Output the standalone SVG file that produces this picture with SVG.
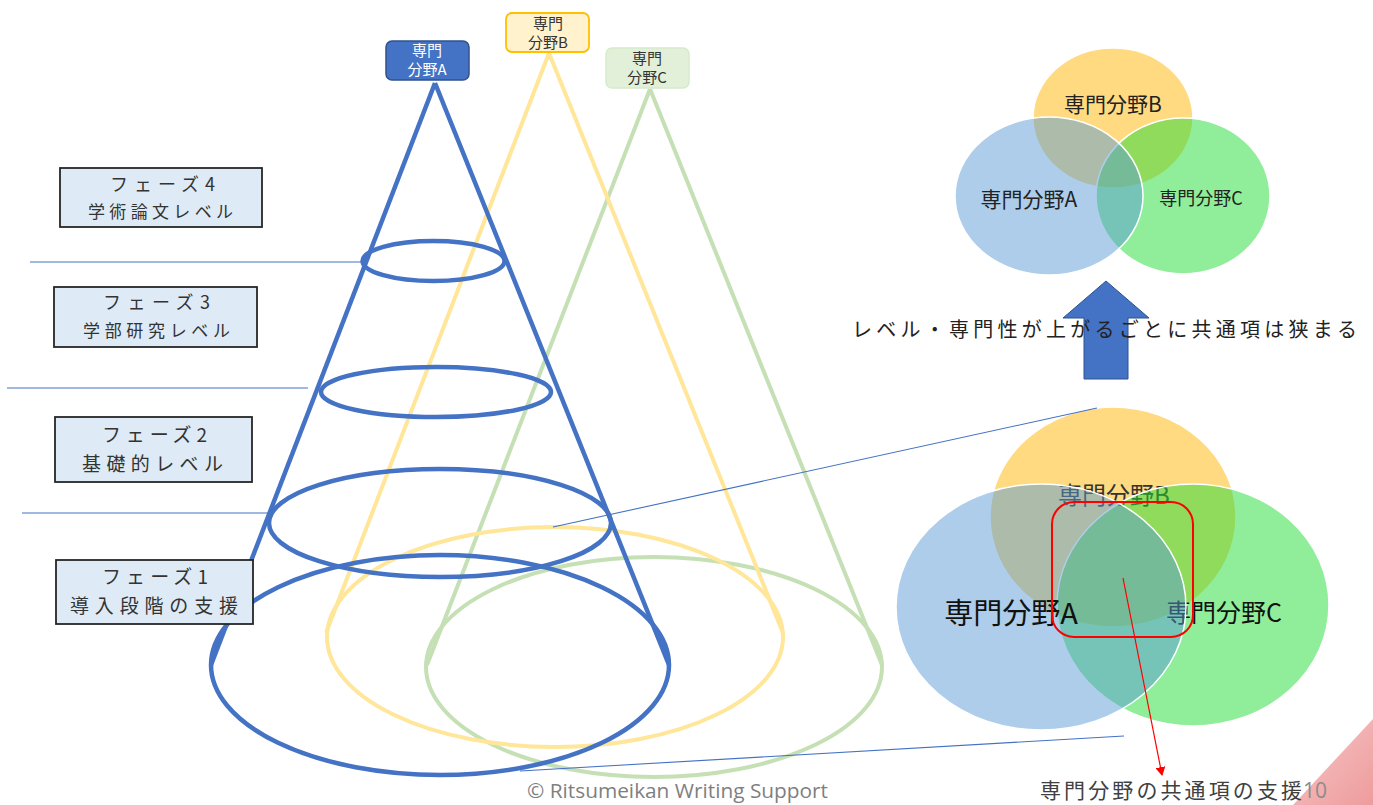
<svg xmlns="http://www.w3.org/2000/svg" width="1373" height="805" viewBox="0 0 1373 805">
<defs>
<style>
text{font-family:"Noto Sans CJK JP","Noto Sans",sans-serif;}
.thin{stroke:#4472C4;stroke-width:1.1;fill:none;}
.cb{stroke:#4472C4;stroke-width:4.5;fill:none;}
.cy{stroke:#FFE699;stroke-width:4;fill:none;}
.cg{stroke:#C5E0B4;stroke-width:4;fill:none;}
.phase rect{fill:#DEEBF7;stroke:#262626;stroke-width:1.8;}
.phase text{fill:#333;}
.vB{fill:#FFDA80;stroke:#fff;stroke-width:1.5;}
.vC{fill:#22DC36;fill-opacity:0.5;stroke:#fff;stroke-width:1.5;}
.vA{fill:#5B9BD5;fill-opacity:0.5;stroke:#fff;stroke-width:1.5;}
</style>
<linearGradient id="pink" x1="0" y1="0" x2="1" y2="1">
<stop offset="0" stop-color="#F7C6C6"/>
<stop offset="1" stop-color="#EE9C9C"/>
</linearGradient>
<marker id="redhead" markerWidth="10" markerHeight="10" refX="8" refY="5" orient="auto" markerUnits="userSpaceOnUse">
<path d="M0,0 L9,5 L0,10 Z" fill="#FF0000"/>
</marker>
</defs>
<rect width="1373" height="805" fill="#fff"/>

<g id="connectors">
<line class="thin" x1="30" y1="262" x2="362" y2="262"/>
<line class="thin" x1="7" y1="388" x2="308" y2="388"/>
<line class="thin" x1="22" y1="513" x2="269" y2="513"/>
</g>

<g id="cone-c">
<line class="cg" x1="650" y1="89" x2="427" y2="665"/>
<line class="cg" x1="650" y1="89" x2="882" y2="665"/>
<ellipse class="cg" cx="654" cy="667" rx="228" ry="110"/>
</g>
<g id="cone-b">
<line class="cy" x1="549" y1="53" x2="326" y2="633"/>
<line class="cy" x1="549" y1="53" x2="783" y2="633"/>
<ellipse class="cy" cx="555" cy="637" rx="228" ry="110"/>
</g>
<g id="cone-a">
<line class="cb" x1="435" y1="83" x2="211" y2="665"/>
<line class="cb" x1="435" y1="83" x2="669" y2="665"/>
<ellipse class="cb" cx="433.5" cy="261" rx="71" ry="20"/>
<ellipse class="cb" cx="436" cy="392" rx="115" ry="25"/>
<ellipse class="cb" cx="440" cy="523" rx="171" ry="54"/>
<ellipse class="cb" cx="440" cy="665" rx="229" ry="110"/>
</g>

<g id="label-a">
<rect x="386" y="41" width="83" height="39" rx="6" fill="#4472C4" stroke="#2F528F" stroke-width="1.5"/>
<text x="427" y="56" font-size="15" fill="#fff" text-anchor="middle">専門</text>
<text x="427" y="75" font-size="15" fill="#fff" text-anchor="middle">分野A</text>
</g>
<g id="label-b">
<rect x="506" y="13" width="83" height="39" rx="6" fill="#FFF2CC" stroke="#FFC000" stroke-width="1.8"/>
<text x="548" y="29" font-size="15" fill="#333" text-anchor="middle">専門</text>
<text x="548" y="48" font-size="15" fill="#333" text-anchor="middle">分野B</text>
</g>
<g id="label-c">
<rect x="606" y="48" width="83" height="40" rx="6" fill="#E2F0D9" stroke="#D6EACB" stroke-width="1.5"/>
<text x="647" y="64" font-size="15" fill="#333" text-anchor="middle">専門</text>
<text x="647" y="83" font-size="15" fill="#333" text-anchor="middle">分野C</text>
</g>

<g id="phase4" class="phase">
<rect x="60" y="168" width="202" height="59"/>
<text x="110" y="191" font-size="18" textLength="105" lengthAdjust="spacing">フェーズ4</text>
<text x="88" y="218" font-size="17" textLength="145" lengthAdjust="spacing">学術論文レベル</text>
</g>
<g id="phase3" class="phase">
<rect x="54" y="287" width="203" height="60"/>
<text x="103" y="309" font-size="18" textLength="107" lengthAdjust="spacing">フェーズ3</text>
<text x="83" y="337" font-size="17" textLength="147" lengthAdjust="spacing">学部研究レベル</text>
</g>
<g id="phase2" class="phase">
<rect x="55" y="417" width="197" height="65"/>
<text x="102" y="442" font-size="19" textLength="105" lengthAdjust="spacing">フェーズ2</text>
<text x="82" y="471" font-size="19" textLength="141" lengthAdjust="spacing">基礎的レベル</text>
</g>
<g id="phase1" class="phase">
<rect x="56" y="560" width="197" height="64"/>
<text x="102" y="584" font-size="19" textLength="106" lengthAdjust="spacing">フェーズ1</text>
<text x="70" y="613" font-size="19" textLength="168" lengthAdjust="spacing">導入段階の支援</text>
</g>

<g id="venn-top">
<ellipse class="vB" cx="1113" cy="118" rx="80" ry="70"/>
<text x="1113" y="112" font-size="21" fill="#222" text-anchor="middle">専門分野B</text>
<ellipse class="vC" cx="1183" cy="196" rx="87" ry="78"/>
<text x="1201" y="205" font-size="18" fill="#222" text-anchor="middle">専門分野C</text>
<ellipse class="vA" cx="1049" cy="196" rx="94" ry="79"/>
<text x="1029" y="207" font-size="21" fill="#222" text-anchor="middle">専門分野A</text>
</g>

<g id="up-arrow">
<polygon points="1106,281 1149,318 1128,318 1128,379 1084,379 1084,318 1063,318" fill="#4472C4" stroke="#2F528F" stroke-width="1"/>
</g>
<text id="caption" x="852" y="337" font-size="20" fill="#222" textLength="505" lengthAdjust="spacing">レベル・専門性が上がるごとに共通項は狭まる</text>

<g id="venn-bottom">
<ellipse class="vB" cx="1113" cy="517" rx="123" ry="110"/>
<text x="1114" y="504" font-size="24" fill="#333" text-anchor="middle">専門分野B</text>
<ellipse class="vC" cx="1193" cy="605" rx="136" ry="121"/>
<text x="1224" y="622" font-size="25" fill="#111" text-anchor="middle">専門分野C</text>
<ellipse class="vA" cx="1041" cy="607" rx="145" ry="123"/>
<text x="1011" y="624" font-size="29" fill="#111" text-anchor="middle">専門分野A</text>
<rect x="1052" y="502" width="141" height="135" rx="22" fill="none" stroke="#FF0000" stroke-width="2"/>
</g>

<g id="zoom-lines">
<line class="thin" x1="553" y1="527" x2="1097" y2="408"/>
<line class="thin" x1="520" y1="771" x2="1124" y2="736"/>
<line x1="1123" y1="578" x2="1162" y2="775" stroke="#FF0000" stroke-width="1.2" marker-end="url(#redhead)"/>
</g>

<polygon id="corner" points="1373,719 1373,805 1293,805" fill="url(#pink)"/>

<text id="support" x="1040" y="798" font-size="21" fill="#404040" textLength="262" lengthAdjust="spacing">専門分野の共通項の支援</text>
<text id="page" x="1303" y="798" font-size="21" fill="#8C8C8C" style="font-family:'Open Sans',sans-serif">10</text>
<text id="copyright" x="527" y="798" font-size="20" fill="#7F7F7F" style="font-family:'Open Sans',sans-serif" textLength="301" lengthAdjust="spacingAndGlyphs">© Ritsumeikan Writing Support</text>
</svg>
